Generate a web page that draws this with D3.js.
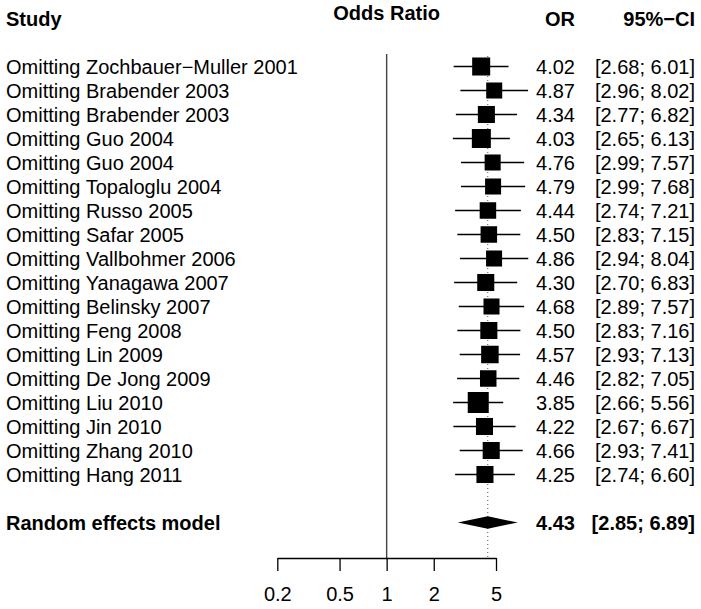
<!DOCTYPE html>
<html>
<head>
<meta charset="utf-8">
<script src="https://cdn.jsdelivr.net/npm/d3@7/dist/d3.min.js"></script>
<style>
  html, body { margin: 0; padding: 0; background: #fff; }
  svg text { font-family: "Liberation Sans", Arial, sans-serif; fill: #000; }
</style>
</head>
<body>
<svg id="chart" width="701" height="609"></svg>
<script>
// ---- data ----
const studies = [
  "Omitting Zochbauer\u2212Muller 2001",
  "Omitting Brabender 2003",
  "Omitting Brabender 2003",
  "Omitting Guo 2004",
  "Omitting Guo 2004",
  "Omitting Topaloglu 2004",
  "Omitting Russo 2005",
  "Omitting Safar 2005",
  "Omitting Vallbohmer 2006",
  "Omitting Yanagawa 2007",
  "Omitting Belinsky 2007",
  "Omitting Feng 2008",
  "Omitting Lin 2009",
  "Omitting De Jong 2009",
  "Omitting Liu 2010",
  "Omitting Jin 2010",
  "Omitting Zhang 2010",
  "Omitting Hang 2011"
];
const orValues = [4.02, 4.87, 4.34, 4.03, 4.76, 4.79, 4.44, 4.50, 4.86, 4.30, 4.68, 4.50, 4.57, 4.46, 3.85, 4.22, 4.66, 4.25];
const ciLower  = [2.68, 2.96, 2.77, 2.65, 2.99, 2.99, 2.74, 2.83, 2.94, 2.70, 2.89, 2.83, 2.93, 2.82, 2.66, 2.67, 2.93, 2.74];
const ciUpper  = [6.01, 8.02, 6.82, 6.13, 7.57, 7.68, 7.21, 7.15, 8.04, 6.83, 7.57, 7.16, 7.13, 7.05, 5.56, 6.67, 7.41, 6.60];
// relative weights
const weights  = [16.2, 12.8, 14.5, 18.0, 12.8, 12.8, 13.6, 13.6, 12.8, 14.5, 12.8, 14.5, 15.3, 13.6, 22.0, 14.5, 14.5, 14.5];
const summaryLabel = "Random effects model";
const summaryOR = 4.43, summaryLower = 2.85, summaryUpper = 6.89;
const tickValues = [0.2, 0.5, 1, 2, 5];
const tickLabels = ["0.2", "0.5", "1", "2", "5"];
const headers = { study: "Study", effect: "Odds Ratio", or: "OR", ci: "95%\u2212CI" };

// ---- layout ----
const svg = d3.select("#chart");
const FS = 20;
const x = d3.scaleLog().domain([0.2, 5]).range([277.3, 496]);
const y = d3.scaleLinear().domain([0, 19]).range([66.5, 522.5]);
const box = d3.scaleSqrt().domain([0, 22]).range([0, 21]);
const axisY = 558;
const xOR = 575, xCI = 695, xStudy = 6;
const fmt = d3.format(".2f");
const ciText = (l, u) => "[" + fmt(l) + "; " + fmt(u) + "]";

// headers
const hdr = svg.append("g").attr("font-weight", "bold").style("font-size", FS + "px");
hdr.append("text").attr("x", xStudy).attr("y", 26).text(headers.study);
hdr.append("text").attr("x", x(1)).attr("y", 20).attr("text-anchor", "middle").text(headers.effect);
hdr.append("text").attr("x", xOR).attr("y", 26).attr("text-anchor", "end").text(headers.or);
hdr.append("text").attr("x", xCI).attr("y", 26).attr("text-anchor", "end").text(headers.ci);

// null line
svg.append("line")
  .attr("x1", x(1)).attr("x2", x(1))
  .attr("y1", 54).attr("y2", axisY)
  .attr("stroke", "#444").attr("stroke-width", 1.4);

// summary dotted line
svg.append("line")
  .attr("x1", x(summaryOR)).attr("x2", x(summaryOR))
  .attr("y1", 56).attr("y2", axisY)
  .attr("stroke", "#555").attr("stroke-width", 1)
  .attr("stroke-dasharray", "1,3");

// study rows
const rows = svg.append("g").selectAll("g").data(studies).join("g")
  .attr("transform", (d, i) => `translate(0,${y(i)})`);

rows.append("line")
  .attr("x1", (d, i) => x(ciLower[i]))
  .attr("x2", (d, i) => x(ciUpper[i]))
  .attr("y1", 0).attr("y2", 0)
  .attr("stroke", "#000").attr("stroke-width", 1.4);

rows.append("rect")
  .attr("x", (d, i) => x(orValues[i]) - box(weights[i]) / 2)
  .attr("y", (d, i) => -box(weights[i]) / 2)
  .attr("width", (d, i) => box(weights[i]))
  .attr("height", (d, i) => box(weights[i]))
  .attr("fill", "#000");

rows.append("text").attr("x", xStudy).attr("dy", "0.36em")
  .style("font-size", FS + "px").text(d => d);
rows.append("text").attr("x", xOR).attr("dy", "0.36em").attr("text-anchor", "end")
  .style("font-size", FS + "px").text((d, i) => fmt(orValues[i]));
rows.append("text").attr("x", xCI).attr("dy", "0.36em").attr("text-anchor", "end")
  .style("font-size", FS + "px").text((d, i) => ciText(ciLower[i], ciUpper[i]));

// summary row
const sy = y(19);
const dh = 6.2;
svg.append("path")
  .attr("d", d3.line()([
    [x(summaryLower), sy], [x(summaryOR), sy - dh],
    [x(summaryUpper), sy], [x(summaryOR), sy + dh]
  ]) + "Z")
  .attr("fill", "#000");
const sg = svg.append("g").attr("font-weight", "bold").style("font-size", FS + "px");
sg.append("text").attr("x", xStudy).attr("y", sy).attr("dy", "0.36em").text(summaryLabel);
sg.append("text").attr("x", xOR).attr("y", sy).attr("dy", "0.36em").attr("text-anchor", "end").text(fmt(summaryOR));
sg.append("text").attr("x", xCI).attr("y", sy).attr("dy", "0.36em").attr("text-anchor", "end").text(ciText(summaryLower, summaryUpper));

// x axis
const axis = d3.axisBottom(x)
  .tickValues(tickValues)
  .tickFormat((d, i) => tickLabels[i])
  .tickSize(13).tickPadding(16).tickSizeOuter(0);
const ax = svg.append("g").attr("transform", `translate(0,${axisY})`).call(axis);
ax.select(".domain").attr("stroke", "#000").attr("stroke-width", 1.3);
ax.selectAll(".tick line").attr("stroke", "#000").attr("stroke-width", 1.3);
ax.selectAll(".tick text")
  .style("font-size", FS + "px")
  .style("font-family", "'Liberation Sans', Arial, sans-serif")
  .attr("fill", "#000");
</script>
</body>
</html>
